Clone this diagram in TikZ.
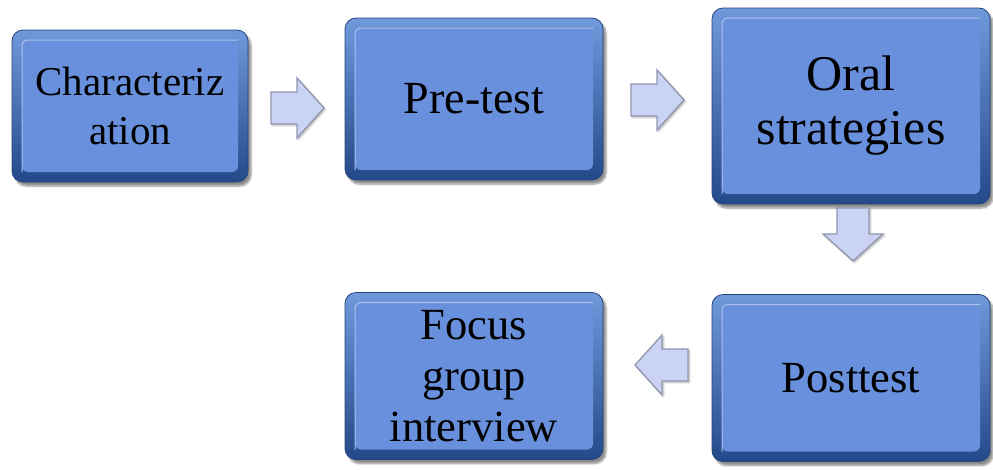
\documentclass[tikz,border=0pt]{standalone}
\usepackage{fontspec}
\setmainfont{Liberation Serif}
\usetikzlibrary{shadows.blur}
\definecolor{faceblue}{HTML}{6890DC}
\definecolor{rimtop}{HTML}{7099DC}
\definecolor{rimbot}{HTML}{24498A}
\definecolor{rimdraw}{HTML}{234579}
\definecolor{arrowfill}{HTML}{CAD3F3}
\definecolor{arrowedge}{HTML}{8F97AE}
\tikzset{
  bevelbox/.style={rounded corners=11pt, top color=rimtop, bottom color=rimbot,
    draw=rimdraw, line width=0.8pt, align=center, inner sep=0pt,
    blur shadow={shadow xshift=3pt, shadow yshift=-4pt, shadow blur steps=6, shadow opacity=45},
    path picture={
      \fill[faceblue, rounded corners=6pt]
        ([shift={(10pt,-10pt)}]path picture bounding box.north west) rectangle
        ([shift={(-10pt,10pt)}]path picture bounding box.south east);
      \draw[faceblue!55!white, line width=1pt, rounded corners=6pt]
        ([shift={(10pt,10pt)}]path picture bounding box.south west) --
        ([shift={(10pt,-10pt)}]path picture bounding box.north west) --
        ([shift={(-10pt,-10pt)}]path picture bounding box.north east);
    }},
  blockarrow/.style={fill=arrowfill, draw=arrowedge, line width=1.3pt, line join=miter,
    blur shadow={shadow xshift=1.5pt, shadow yshift=-1.5pt, shadow blur steps=4, shadow opacity=30}}
}
\newcommand\blockarr[2]{\path[blockarrow, shift={#1}, rotate=#2]
  (-26,-16) -- (0,-16) -- (0,-30) -- (27,0) -- (0,30) -- (0,16) -- (-26,16) -- cycle;}
\begin{document}
\begin{tikzpicture}[x=1pt,y=-1pt]
\useasboundingbox (0,0) rectangle (993,469);
\node[bevelbox, minimum width=236pt, minimum height=152pt,
  font=\fontsize{41}{49}\selectfont] (char) at (130,106) {Characteriz\\ation};
\node[bevelbox, minimum width=258pt, minimum height=162pt,
  font=\fontsize{46}{52}\selectfont] (pre) at (474,99) {Pre-test};
\node[bevelbox, minimum width=278pt, minimum height=196pt,
  font=\fontsize{50}{54}\selectfont] (oral) at (851,106) {Oral\\strategies};
\node[bevelbox, minimum width=278pt, minimum height=167pt,
  font=\fontsize{44.5}{50}\selectfont] (post) at (851,378) {Posttest};
\node[bevelbox, minimum width=258pt, minimum height=167pt,
  font=\fontsize{44.5}{51}\selectfont] (focus) at (474,376) {Focus\\group\\interview};
\blockarr{(297,108)}{0}
\blockarr{(657,100)}{0}
\blockarr{(853,234)}{-90}
\blockarr{(662,365)}{180}
\end{tikzpicture}
\end{document}
